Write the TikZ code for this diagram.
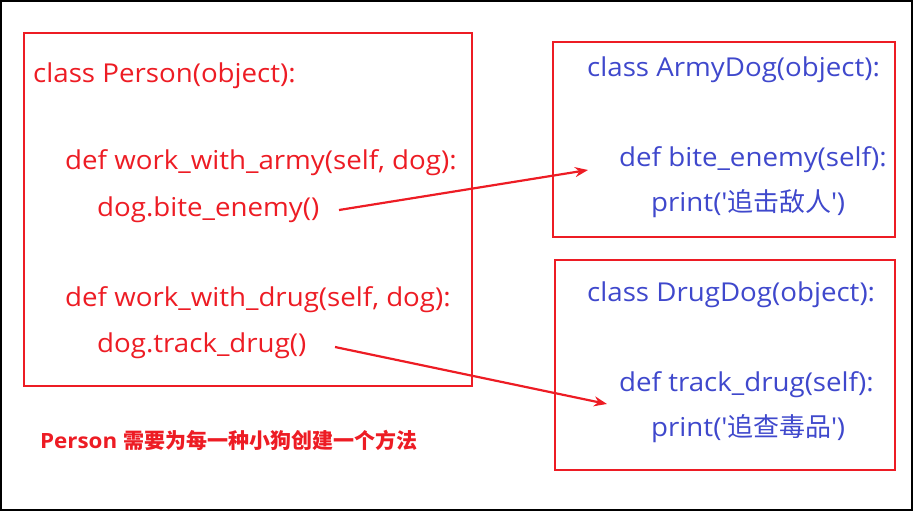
\documentclass[tikz,border=0pt]{standalone}
\usepackage{fontspec}
\setmainfont{Open Sans}[FakeStretch=1.065]
\newfontfamily\cjk{Noto Sans CJK SC}
\usetikzlibrary{arrows.meta}
\definecolor{boxred}{RGB}{237,28,36}
\definecolor{codeblue}{RGB}{63,72,204}
\newcommand{\sq}{\textquotesingle}
\begin{document}
\begin{tikzpicture}[x=1pt,y=-1pt,
  frame/.style={draw=boxred,line width=2pt},
  redcode/.style={anchor=base west,inner sep=0pt,text=boxred,font=\fontsize{26}{26}\selectfont},
  bluecode/.style={anchor=base west,inner sep=0pt,text=codeblue,font=\fontsize{26}{26}\selectfont},
  link/.style={draw=boxred,line width=2.2pt,-{Stealth[length=13pt,width=10pt]}}]
\useasboundingbox (0,0) rectangle (915,512);
\draw[line width=2pt] (1,1) rectangle (912,510);

% Person class
\draw[frame] (23.5,33) rectangle (472,386);
\node[redcode] (p1) at (33,82) {class Person(object):};
\node[redcode] (p2) at (65,169) {def work\_with\_army(self, dog):};
\node[redcode] (p3) at (97,216) {dog.bite\_enemy()};
\node[redcode] (p4) at (65,306) {def work\_with\_drug(self, dog):};
\node[redcode] (p5) at (97,352) {dog.track\_drug()};

% ArmyDog class
\draw[frame] (553,42) rectangle (895,237);
\node[bluecode] (a1) at (587,76) {class ArmyDog(object):};
\node[bluecode] (a2) at (619,166) {def bite\_enemy(self):};
\node[bluecode] (a3) at (651,211) {print(\sq{\cjk 追击敌人}\sq)};

% DrugDog class
\draw[frame] (555,260) rectangle (895,470);
\node[bluecode] (d1) at (587,301) {class DrugDog(object):};
\node[bluecode] (d2) at (619,391) {def track\_drug(self):};
\node[bluecode] (d3) at (651,436) {print(\sq{\cjk 追查毒品}\sq)};

% note
\node[anchor=base west,inner sep=0pt,text=boxred,font=\fontsize{21}{21}\selectfont\bfseries] (note) at (40,448) {Person {\cjk\bfseries 需要为每一种小狗创建一个方法}};

% calls
\coordinate (s1) at (339,210);
\coordinate (s2) at (335,347);
\draw[link] (s1) -- ([xshift=-31pt,yshift=-4pt]a2.base west);
\draw[link] (s2) -- ([xshift=-12pt,yshift=-13pt]d2.base west);
\end{tikzpicture}
\end{document}
